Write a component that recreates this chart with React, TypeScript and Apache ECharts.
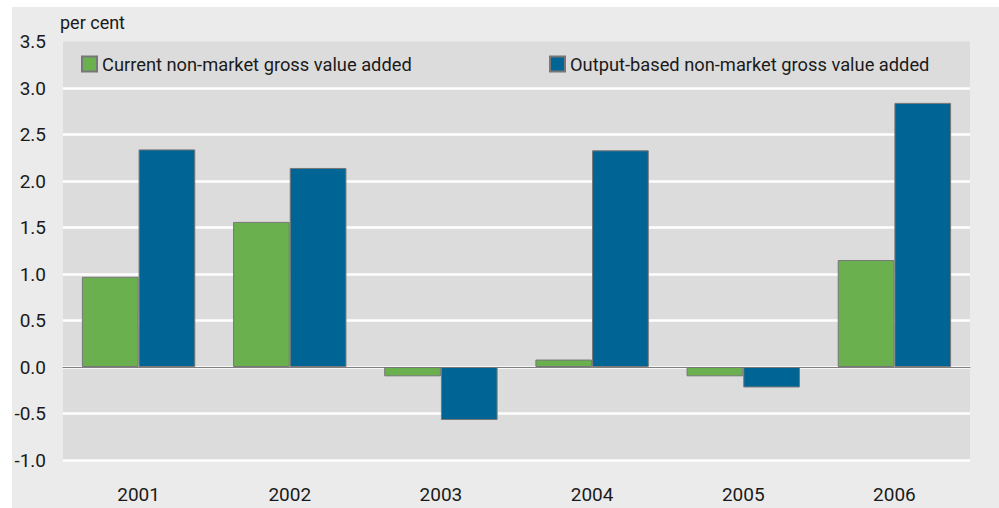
import React, { useEffect, useRef } from "react";
import * as echarts from "echarts";

const categories = ["2001", "2002", "2003", "2004", "2005", "2006"];
const currentGVA = [0.97, 1.56, -0.1, 0.08, -0.1, 1.15];
const outputGVA = [2.34, 2.14, -0.57, 2.33, -0.22, 2.84];
const seriesNames = [
  "Current non-market gross value added",
  "Output-based non-market gross value added",
];
const yUnit = "per cent";

const FONT = "Roboto, 'Open Sans', sans-serif";

export default function App() {
  const ref = useRef<HTMLDivElement>(null);
  useEffect(() => {
    if (!ref.current) return;
    const chart = echarts.init(ref.current, undefined, { renderer: "svg" });
    const gridColors = ["#ffffff", "#ffffff", "#ffffff", "#ffffff", "#ffffff", "#ffffff", "#ffffff", "#ffffff", "#ffffff", "rgba(0,0,0,0)"];
    const legendText = { fontFamily: FONT, fontSize: 18.3, lineHeight: 15, color: "#1a1a1a" };
    chart.setOption({
      animation: false,
      backgroundColor: "#ffffff",
      textStyle: { fontFamily: FONT },
      graphic: [
        {
          type: "rect",
          z: -100,
          silent: true,
          shape: { x: 12, y: 7, width: 987, height: 501 },
          style: { fill: "#ebebeb" },
        },
        {
          type: "text",
          x: 60,
          y: 22,
          style: {
            text: yUnit,
            fontFamily: FONT,
            fontSize: 18,
            fill: "#1a1a1a",
            verticalAlign: "middle",
          },
        },
      ],
      legend: [
        {
          data: [seriesNames[0]],
          left: 81,
          top: 55,
          icon: "rect",
          itemWidth: 15,
          itemHeight: 15,
          itemGap: 0,
          padding: 0,
          textStyle: legendText,
        },
        {
          data: [seriesNames[1]],
          left: 549,
          top: 55,
          icon: "rect",
          itemWidth: 15,
          itemHeight: 15,
          itemGap: 0,
          padding: 0,
          textStyle: legendText,
        },
      ],
      grid: {
        left: 63,
        right: 29,
        top: 41.5,
        bottom: 48,
        show: true,
        backgroundColor: "#dcdcdc",
        borderWidth: 0,
        containLabel: false,
      },
      xAxis: {
        type: "category",
        data: categories,
        axisTick: { show: false },
        axisLine: { show: true, onZero: true, lineStyle: { color: "#808080", width: 1 } },
        axisLabel: { fontFamily: FONT, fontSize: 19, lineHeight: 19, color: "#1a1a1a", margin: 25 },
        splitLine: { show: false },
      },
      yAxis: {
        type: "value",
        min: -1,
        max: 3.5,
        interval: 0.5,
        axisLine: { show: false },
        axisTick: { show: false },
        axisLabel: {
          fontFamily: FONT,
          fontSize: 19,
          color: "#1a1a1a",
          margin: 17,
          formatter: (v: number) => v.toFixed(1),
        },
        splitLine: { show: true, lineStyle: { color: gridColors, width: 2.5 } },
      },
      series: [
        {
          name: seriesNames[0],
          type: "bar",
          data: currentGVA,
          barGap: "0%",
          barCategoryGap: "25%",
          itemStyle: { color: "#6ab04f", borderColor: "#777777", borderWidth: 1 },
        },
        {
          name: seriesNames[1],
          type: "bar",
          data: outputGVA,
          barGap: "0%",
          barCategoryGap: "25%",
          itemStyle: { color: "#006494", borderColor: "#777777", borderWidth: 1 },
        },
      ],
    });
    return () => chart.dispose();
  }, []);
  return (
    <div
      ref={ref}
      style={{ position: "absolute", left: 0, top: 0, width: 999, height: 508 }}
    />
  );
}
